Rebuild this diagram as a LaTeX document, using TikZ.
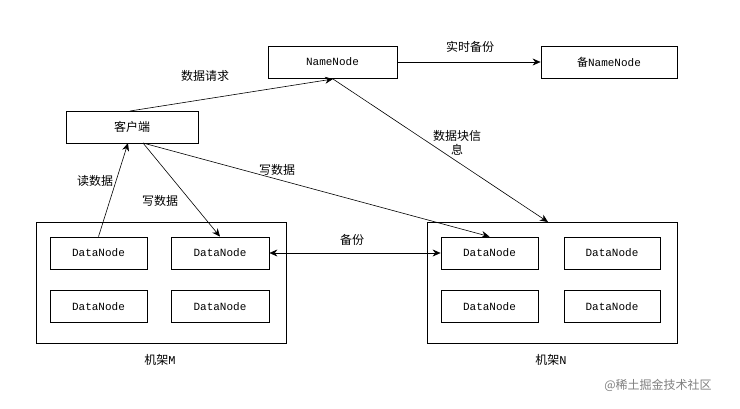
\documentclass[tikz,border=0pt]{standalone}
\usepackage{fontspec}
\usetikzlibrary{arrows.meta}
\setmainfont{Liberation Mono}
\newfontfamily\cjk{Noto Sans CJK SC}
\begin{document}
\begin{tikzpicture}[x=1pt,y=-1pt,
  box/.style={draw,thick,minimum height=32pt,inner sep=0pt,font=\fontsize{11}{13}\selectfont},
  rack/.style={draw,thick},
  lbl/.style={font=\cjk\fontsize{12}{14}\selectfont},
  arr/.style={-{Stealth[length=8pt,width=7pt]},semithick}]
\useasboundingbox (0,0) rectangle (740,408);
\fill[white] (0,0) rectangle (740,408);
\node[box,minimum width=129pt] (nn) at (332.5,62) {NameNode};
\node[box,minimum width=136pt] (bnn) at (609,62) {{\cjk 备}NameNode};
\node[box,minimum width=132pt,font=\cjk\fontsize{12}{14}\selectfont] (cl) at (132,127) {客户端};
\node[rack,minimum width=250pt,minimum height=121pt] (rm) at (161,282.5) {};
\node[rack,minimum width=250pt,minimum height=121pt] (rn) at (552,282.5) {};
\node[box,minimum width=97pt] (m1) at (98.5,253) {DataNode};
\node[box,minimum width=98pt] (m2) at (220,253) {DataNode};
\node[box,minimum width=97pt] (m3) at (98.5,306.5) {DataNode};
\node[box,minimum width=98pt] (m4) at (220,306.5) {DataNode};
\node[box,minimum width=97pt] (n1) at (489.5,253) {DataNode};
\node[box,minimum width=96pt] (n2) at (612,253) {DataNode};
\node[box,minimum width=97pt] (n3) at (489.5,306.5) {DataNode};
\node[box,minimum width=96pt] (n4) at (612,306.5) {DataNode};
\node[lbl] (lm) at (160,360) {机架{\rmfamily M}};
\node[lbl] (ln) at (551,360) {机架{\rmfamily N}};
\coordinate (clt) at (130,111);
\coordinate (clb) at (143,143);
\coordinate (clb2) at (128,143);
\coordinate (nnb) at (333,79);
\draw[arr] (clt) -- (nnb);
\node[lbl] (l0) at (205,76) {数据请求};
\draw[arr] (nn) -- (bnn);
\node[lbl] (l2) at (470,47) {实时备份};
\draw[arr] (nnb) -- (548,222) coordinate (rnt);
\node[lbl,align=center] (l1) at (457,143) {数据块信\\息};
\draw[arr] (clb) -- (m2.north);
\node[lbl] (l3) at (160,201) {写数据};
\draw[arr] (m1.north) -- (clb2);
\node[lbl] (l4) at (95,181) {读数据};
\draw[arr] (clb) -- (n1.north);
\node[lbl] (l5) at (277,170) {写数据};
\draw[{Stealth[length=8pt,width=7pt]}-{Stealth[length=8pt,width=7pt]},semithick] (m2.east) -- (n1.west);
\node[lbl] (l6) at (352,240) {备份};
\node[font=\cjk\fontsize{12}{14}\selectfont,text=gray] (wm) at (658,385) {@稀土掘金技术社区};
\end{tikzpicture}
\end{document}
